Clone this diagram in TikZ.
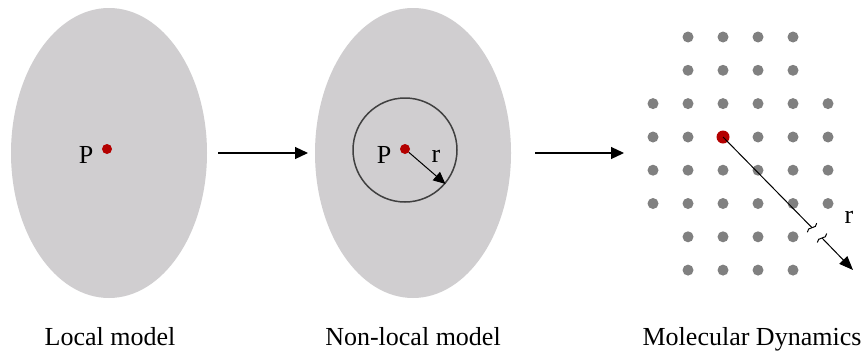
\documentclass[tikz,border=0pt]{standalone}
\usepackage{fontspec}
\setmainfont{Liberation Serif}
\usetikzlibrary{shapes.geometric,arrows.meta}
\definecolor{blobgray}{RGB}{208,206,208}
\definecolor{dotgray}{RGB}{128,128,128}
\definecolor{pointred}{RGB}{180,0,0}
\definecolor{ringgray}{RGB}{64,64,64}
\tikzset{
  blob/.style={ellipse, fill=blobgray, draw=none, minimum width=196pt, minimum height=290pt, inner sep=0pt},
  reddot/.style={circle, fill=pointred, draw=none, minimum size=10pt, inner sep=0pt},
  bigred/.style={circle, fill=pointred, draw=none, minimum size=13pt, inner sep=0pt},
  atom/.style={circle, fill=dotgray, draw=none, minimum size=11pt, inner sep=0pt},
  lbl/.style={font=\fontsize{26}{30}\selectfont, inner sep=0pt},
  arr/.style={line width=1.2pt, -{Triangle[length=13pt,width=12pt]}},
  squig/.style={line width=1pt, black}
}
\begin{document}
\begin{tikzpicture}[x=1pt,y=-1pt]
\useasboundingbox (0,0) rectangle (866,354);
% ellipses
\node[blob] (e1) at (109,153) {};
\node[blob] (e2) at (413,153) {};
% points
\node[reddot] (p1) at (107,149) {};
\node[lbl] (P1) at (86,155) {P};
\node[circle, draw=ringgray, line width=1.5pt, minimum size=104pt, inner sep=0pt] (ring) at (405,150) {};
\node[reddot] (p2) at (405,149) {};
\node[lbl] (P2) at (384,155) {P};
\node[lbl] (r2) at (436,156) {r};
\draw[line width=1pt, -{Triangle[length=12pt,width=11pt]}] (p2) -- (ring.-40);
% transition arrows
\coordinate (a1s) at (218,153);
\coordinate (a1e) at (308,153);
\coordinate (a2s) at (535,153);
\coordinate (a2e) at (624,153);
\draw[arr] (a1s) -- (a1e);
\draw[arr] (a2s) -- (a2e);
% lattice
\foreach \c in {2,...,5} {
  \node[atom] (d1\c) at ({653+35*(\c-1)},37) {};
  \node[atom] (d2\c) at ({653+35*(\c-1)},70.3) {};
  \node[atom] (d7\c) at ({653+35*(\c-1)},236.8) {};
  \node[atom] (d8\c) at ({653+35*(\c-1)},270.1) {};
}
\foreach \c in {1,...,6} {
  \node[atom] (d3\c) at ({653+35*(\c-1)},103.6) {};
  \node[atom] (d5\c) at ({653+35*(\c-1)},170.2) {};
  \node[atom] (d6\c) at ({653+35*(\c-1)},203.5) {};
}
\foreach \c in {1,2,4,5,6} {
  \node[atom] (d4\c) at ({653+35*(\c-1)},137) {};
}
\node[bigred] (md) at (723,137) {};
\coordinate (b1) at (812,227.7);
\coordinate (b2) at (822,238);
\coordinate (tip) at (853,270);
\draw[line width=1pt] (md.center) -- (b1);
\draw[line width=1pt, -{Triangle[length=14pt,width=11pt]}] (b2) -- (tip);
\begin{scope}[shift={(b1)}, rotate=-45.9]
  \draw[squig] (0,-6.5) .. controls (5,-2.5) and (-5,2.5) .. (0,6.5);
\end{scope}
\begin{scope}[shift={(b2)}, rotate=-45.9]
  \draw[squig] (0,-6.5) .. controls (5,-2.5) and (-5,2.5) .. (0,6.5);
\end{scope}
\node[lbl] (r3) at (849,217) {r};
% captions
\node[lbl, anchor=base] (c1) at (110,345) {Local model};
\node[lbl, anchor=base] (c2) at (413,345) {Non-local model};
\node[lbl, anchor=base] (c3) at (752,345) {Molecular Dynamics};
\end{tikzpicture}
\end{document}
